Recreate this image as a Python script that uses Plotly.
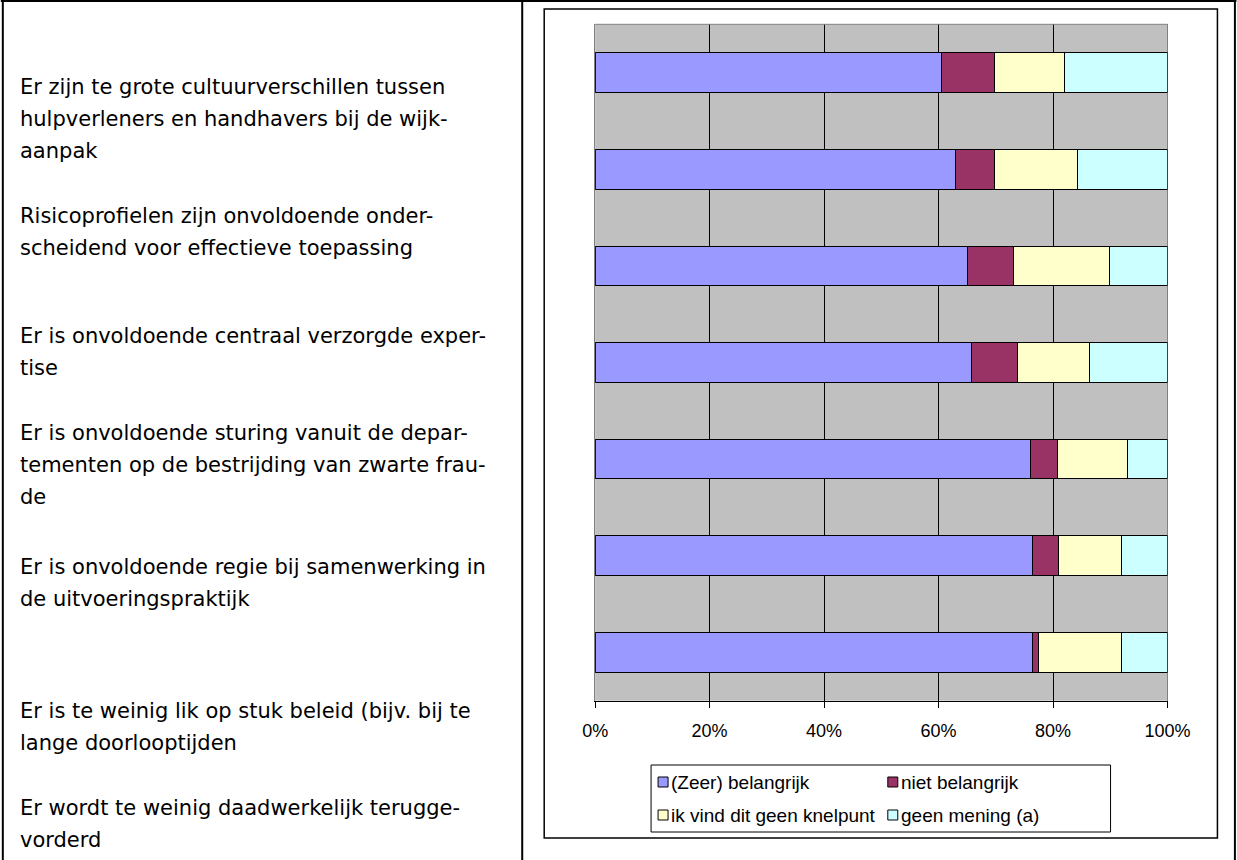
import plotly.graph_objects as go

# ---------------- data ----------------
categories = ["Knelpunt 1", "Knelpunt 2", "Knelpunt 3", "Knelpunt 4",
              "Knelpunt 5", "Knelpunt 6", "Knelpunt 7"]
series_names = ["(Zeer) belangrijk", "niet belangrijk",
                "ik vind dit geen knelpunt", "geen mening (a)"]
zeer_belangrijk = [60.5, 62.9, 65.1, 65.8, 76.1, 76.4, 76.4]
niet_belangrijk = [9.2, 6.8, 8.0, 8.0, 4.6, 4.6, 1.0]
geen_knelpunt = [12.3, 14.6, 16.8, 12.5, 12.3, 10.9, 14.5]
geen_mening = [18.0, 15.7, 10.1, 13.7, 7.0, 8.1, 8.1]
tick_values = [0, 20, 40, 60, 80, 100]
tick_labels = ["0%", "20%", "40%", "60%", "80%", "100%"]

left_labels = [
    ["Er zijn te grote cultuurverschillen tussen",
     "hulpverleners en handhavers bij de wijk-",
     "aanpak"],
    ["Risicoprofielen zijn onvoldoende onder-",
     "scheidend voor effectieve toepassing"],
    ["Er is onvoldoende centraal verzorgde exper-",
     "tise"],
    ["Er is onvoldoende sturing vanuit de depar-",
     "tementen op de bestrijding van zwarte frau-",
     "de"],
    ["Er is onvoldoende regie bij samenwerking in",
     "de uitvoeringspraktijk"],
    ["Er is te weinig lik op stuk beleid (bijv. bij te",
     "lange doorlooptijden"],
    ["Er wordt te weinig daadwerkelijk terugge-",
     "vorderd"],
]

# ---------------- styling / layout ----------------
W, H = 1237, 860
colors = ["#9999FF", "#993366", "#FFFFCC", "#CCFFFF"]
values = [zeer_belangrijk, niet_belangrijk, geen_knelpunt, geen_mening]

# observed horizontal placement of the rendered figure on screen
FIG_OFF = 12.2
FIG_W = 0.972 * W


def px(x):
    return (x - FIG_OFF) / FIG_W


def py(y):
    return 1 - y / H


PLOT_L, PLOT_R, PLOT_T, PLOT_B = 595, 1168, 24.3, 700.7
label_first_line_px = [87, 216, 336, 433, 567, 711, 808]
LINE_H = 32.2

fig = go.Figure()
for name, vals, col in zip(series_names, values, colors):
    fig.add_trace(go.Bar(
        y=categories, x=vals, name=name, orientation="h",
        marker=dict(color=col, line=dict(color="black", width=1)),
        showlegend=False, hoverinfo="x+name",
    ))

shapes = []
annotations = []

# outer table lines
line_style = dict(color="black", width=2)
shapes.append(dict(type="line", xref="paper", yref="paper",
                   x0=px(0), x1=px(W), y0=py(1), y1=py(1), line=line_style))
for xx in (px(2), px(522), px(1235.5)):
    shapes.append(dict(type="line", xref="paper", yref="paper",
                       x0=xx, x1=xx, y0=py(0), y1=py(H), line=line_style))

# chart border
shapes.append(dict(type="rect", xref="paper", yref="paper",
                   x0=px(544), x1=px(1218), y0=py(838), y1=py(9),
                   line=dict(color="black", width=1.5)))
# top edge of plot area
shapes.append(dict(type="line", xref="paper", yref="paper",
                   x0=px(PLOT_L), x1=px(PLOT_R), y0=py(PLOT_T), y1=py(PLOT_T),
                   line=dict(color="#808080", width=1)))

# left column labels
for lines, y0 in zip(left_labels, label_first_line_px):
    for i, txt in enumerate(lines):
        annotations.append(dict(
            xref="paper", yref="paper", x=px(17), y=py(y0 + i * LINE_H),
            xanchor="left", yanchor="middle", text=txt, showarrow=False,
            font=dict(family="DejaVu Sans", size=21, color="black"),
        ))

# custom legend
LEG_L, LEG_R, LEG_T, LEG_B = 651, 1111, 765, 832
shapes.append(dict(type="rect", xref="paper", yref="paper",
                   x0=px(LEG_L), x1=px(LEG_R), y0=py(LEG_B), y1=py(LEG_T),
                   line=dict(color="black", width=1), fillcolor="white"))
col_x = [658, 888]
row_y = [782, 815]
for k, (name, col) in enumerate(zip(series_names, colors)):
    cx = col_x[k % 2]
    cy = row_y[k // 2]
    shapes.append(dict(type="rect", xref="paper", yref="paper",
                       x0=px(cx), x1=px(cx + 10), y0=py(cy + 5), y1=py(cy - 5),
                       line=dict(color="black", width=1), fillcolor=col))
    annotations.append(dict(
        xref="paper", yref="paper", x=px(cx + 11), y=py(cy),
        xanchor="left", yanchor="middle", text=name, showarrow=False,
        font=dict(family="Liberation Sans", size=19, color="black"),
    ))

fig.update_layout(
    width=W, height=H, autosize=False,
    margin=dict(l=0, r=0, t=0, b=0, pad=0),
    paper_bgcolor="white", plot_bgcolor="#C0C0C0",
    barmode="stack", bargap=0.59,
    showlegend=False,
    shapes=shapes, annotations=annotations,
    xaxis=dict(
        domain=[px(PLOT_L), px(PLOT_R)], range=[0, 100],
        tickmode="array", tickvals=tick_values, ticktext=tick_labels,
        showgrid=True, gridcolor="black", gridwidth=1,
        showline=True, linecolor="black", linewidth=1,
        ticks="outside", ticklen=6, tickcolor="black", tickwidth=1,
        tickfont=dict(family="Liberation Sans", size=18, color="black"),
        ticklabelstandoff=8, zeroline=False, layer="below traces",
        fixedrange=True,
    ),
    yaxis=dict(
        domain=[py(PLOT_B), py(PLOT_T)], range=[6.5, -0.5],
        showticklabels=False, ticks="", showgrid=False, zeroline=False,
        showline=True, linecolor="#808080", linewidth=1, mirror=True,
        layer="below traces", fixedrange=True,
    ),
)

fig.write_html("out.html")
